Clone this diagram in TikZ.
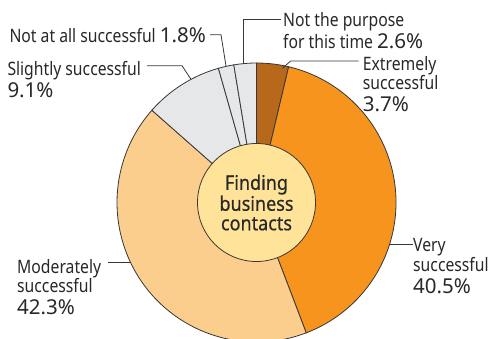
\documentclass[tikz,border=0pt]{standalone}
\usepackage{fontspec}
\setmainfont[FakeStretch=0.85]{Noto Sans}
\newfontfamily\pctfont{Noto Sans}
\newfontfamily\ctrfont[FakeStretch=0.9,FakeBold=0.5]{Noto Sans}
\usepackage{tikz}

\definecolor{extBrown}{RGB}{183,104,26}
\definecolor{veryOrange}{RGB}{247,148,30}
\definecolor{modPeach}{RGB}{252,206,142}
\definecolor{lowGray}{RGB}{230,231,232}
\definecolor{ctrYellow}{RGB}{255,227,152}
\definecolor{lineGray}{RGB}{55,55,55}
\definecolor{textGray}{RGB}{40,40,40}

\newcommand{\pctval}[1]{{\pctfont\fontsize{20.5}{18}\selectfont #1\%}}

\begin{document}
\begin{tikzpicture}[x=1pt,y=1pt]

		\useasboundingbox (0,0) rectangle (495,338);

		\tikzstyle{slice}=[draw=lineGray, line width=0.8pt]
		\tikzstyle{sliceText}=[inner sep=0pt, align=left, text=textGray, font=\fontsize{18.5}{18}\selectfont]
		\tikzstyle{leader}=[draw=lineGray, line width=0.8pt]

		\coordinate (C) at (256.5,135.5);

		\filldraw[slice, fill=extBrown] (C) -- ++(90:139.5) arc[start angle=90, end angle=76.68, radius=139.5] -- cycle;
		\filldraw[slice, fill=veryOrange] (C) -- ++(76.68:139.5) arc[start angle=76.68, end angle=-69.12, radius=139.5] -- cycle;
		\filldraw[slice, fill=modPeach] (C) -- ++(-69.12:139.5) arc[start angle=-69.12, end angle=-221.4, radius=139.5] -- cycle;
		\filldraw[slice, fill=lowGray] (C) -- ++(138.6:139.5) arc[start angle=138.6, end angle=105.84, radius=139.5] -- cycle;
		\filldraw[slice, fill=lowGray] (C) -- ++(105.84:139.5) arc[start angle=105.84, end angle=99.36, radius=139.5] -- cycle;
		\filldraw[slice, fill=lowGray] (C) -- ++(99.36:139.5) arc[start angle=99.36, end angle=90, radius=139.5] -- cycle;

		\node[circle, slice, fill=ctrYellow, minimum size=118, inner sep=0pt, align=center, text=textGray, font=\ctrfont\fontsize{20}{19.5}\selectfont] (ctr) at (C) {Finding\\business\\contacts};

		\node[sliceText, anchor=north west] (P) at (283,325.3) {Not the purpose\\[1pt]for this time \pctval{2.6}};
		\node[sliceText, anchor=base west] (N) at (9.3,295.3) {Not at all successful \pctval{1.8}};
		\node[sliceText, anchor=north west] (S) at (7.3,277) {Slightly successful\\[2pt]\pctval{9.1}};
		\node[sliceText, anchor=north west] (E) at (362.7,282) {Extremely\\successful\\[4pt]\pctval{3.7}};
		\node[sliceText, anchor=north west] (V) at (413,99.5) {Very\\successful\\[4pt]\pctval{40.5}};
		\node[sliceText, anchor=north west] (M) at (17,79) {Moderately\\successful\\[4pt]\pctval{42.3}};

		\coordinate (eP) at ([shift={(95.5:139.5)}]C);
		\coordinate (eN) at ([shift={(102.6:139.5)}]C);
		\coordinate (eS) at ([shift={(118:139.5)}]C);
		\coordinate (eE) at ([shift={(79:137)}]C);
		\coordinate (eV) at ([shift={(-17.3:139.5)}]C);
		\coordinate (eM) at ([shift={(205.25:139.5)}]C);

		\coordinate (kN) at (221,303.3);
		\coordinate (kS) at (182,272.3);

		\draw[leader] ([xshift=-2pt,yshift=-7pt]P.north west) -| (eP);
		\draw[leader] ([xshift=4pt]N.east |- kN) -- (kN) -- (eN);
		\draw[leader] ([xshift=6pt]S.east |- kS) -- (kS) -- (eS);
		\draw[leader] ([xshift=-4pt,yshift=-5pt]E.north west) -- ++(-68,0) -- (eE);
		\draw[leader] (eV) -- (eV -| V.west);
		\draw[leader] (eM) -- ([xshift=7pt]eM -| M.east);

	\end{tikzpicture}
\end{document}
